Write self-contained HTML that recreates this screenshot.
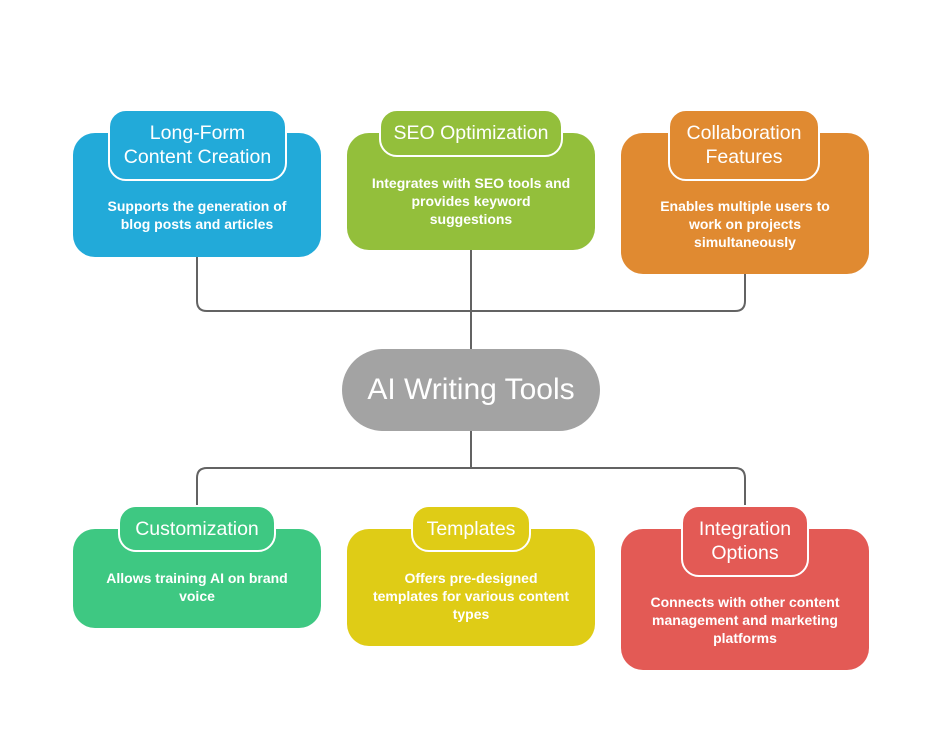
<!DOCTYPE html>
<html><head><style>
body{margin:0;width:942px;height:738px;background:#fff;position:relative;overflow:hidden;font-family:"Liberation Sans",sans-serif;color:#fff}
.b{position:absolute;border-radius:22px}
.p{position:absolute;border:2px solid #fff;border-radius:18px;box-sizing:border-box;display:flex;align-items:center;justify-content:center;text-align:center;font-size:19.5px;line-height:24px;white-space:nowrap}
.d{position:absolute;text-align:center;font-size:14px;font-weight:bold;line-height:18px}
</style></head><body>
<svg width="942" height="738" style="position:absolute;left:0;top:0">
<g fill="none" stroke="#636363" stroke-width="2">
<path d="M197 257 V301 Q197 311 207 311 H735 Q745 311 745 301 V274"/>
<path d="M471 250 V349"/>
<path d="M471 431 V468"/>
<path d="M197 505 V478 Q197 468 207 468 H735 Q745 468 745 478 V505"/>
</g></svg>

<div class="b" style="left:73px;top:133px;width:248px;height:124px;background:#22aad9"></div>
<div class="p" style="left:108px;top:109px;width:179px;height:72px;background:#22aad9">Long-Form<br>Content Creation</div>
<div class="d" style="left:73px;top:197px;width:248px">Supports the generation of<br>blog posts and articles</div>

<div class="b" style="left:347px;top:133px;width:248px;height:117px;background:#93bf3b"></div>
<div class="p" style="left:379px;top:109px;width:184px;height:48px;background:#93bf3b">SEO Optimization</div>
<div class="d" style="left:347px;top:174px;width:248px">Integrates with SEO tools and<br>provides keyword<br>suggestions</div>

<div class="b" style="left:621px;top:133px;width:248px;height:141px;background:#e08a31"></div>
<div class="p" style="left:668px;top:109px;width:152px;height:72px;background:#e08a31">Collaboration<br>Features</div>
<div class="d" style="left:621px;top:197px;width:248px">Enables multiple users to<br>work on projects<br>simultaneously</div>

<div style="position:absolute;left:342px;top:349px;width:258px;height:82px;border-radius:41px;background:#a3a3a3;display:flex;align-items:center;justify-content:center;font-size:30px">AI Writing Tools</div>

<div class="b" style="left:73px;top:529px;width:248px;height:99px;background:#3ec882"></div>
<div class="p" style="left:118px;top:505px;width:158px;height:47px;background:#3ec882">Customization</div>
<div class="d" style="left:73px;top:569px;width:248px">Allows training AI on brand<br>voice</div>

<div class="b" style="left:347px;top:529px;width:248px;height:117px;background:#dfcc16"></div>
<div class="p" style="left:411px;top:505px;width:120px;height:47px;background:#dfcc16">Templates</div>
<div class="d" style="left:347px;top:569px;width:248px">Offers pre-designed<br>templates for various content<br>types</div>

<div class="b" style="left:621px;top:529px;width:248px;height:141px;background:#e35a55"></div>
<div class="p" style="left:681px;top:505px;width:128px;height:72px;background:#e35a55">Integration<br>Options</div>
<div class="d" style="left:621px;top:593px;width:248px">Connects with other content<br>management and marketing<br>platforms</div>
</body></html>
